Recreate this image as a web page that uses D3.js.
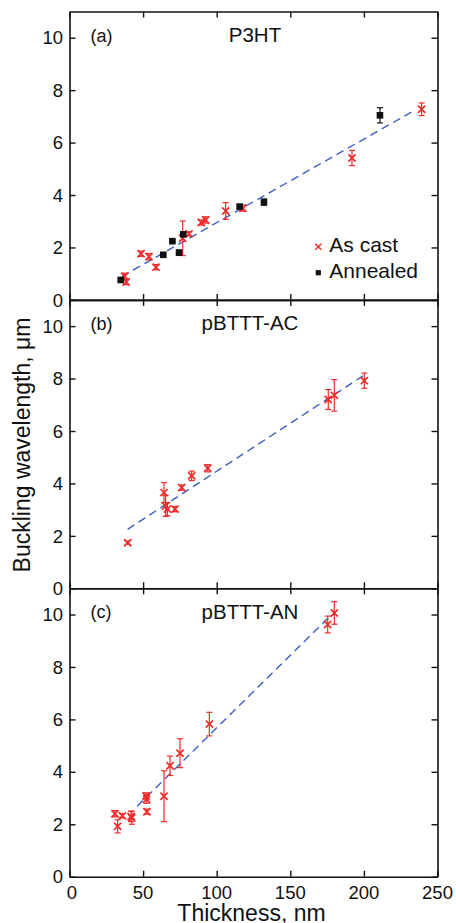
<!DOCTYPE html>
<html>
<head>
<meta charset="utf-8">
<script src="https://cdnjs.cloudflare.com/ajax/libs/d3/7.8.5/d3.min.js"></script>
<style>
  body { margin: 0; background: #fff; }
  text { font-family: "Liberation Sans", Arial, Helvetica, sans-serif; fill: #111; }
</style>
</head>
<body>
<script>
//Width and height
var w = 456;
var h = 923;

var marginLeft = 69.5;
var plotWidth = 368;
var panelTop = 11.5;
var panelHeight = 288.4;
var tickLen = 6;
var colorRed = "#f02a2a";
var colorBlue = "#3d5fc4";
var colorBlack = "#111";

// tick labels
var xTicks = [0, 50, 100, 150, 200, 250];
var yTicks = [0, 2, 4, 6, 8, 10];

// (a) P3HT, as cast
var p3htCastThickness  = [37.5, 38.5, 48.6, 54.0, 58.8, 76.9, 81.2, 89.5, 92.5, 106.1, 117.8, 191.9, 239.2];
var p3htCastWavelength = [0.90, 0.68, 1.76, 1.65, 1.25, 2.35, 2.52, 2.95, 3.05, 3.39, 3.50, 5.41, 7.27];
var p3htCastError      = [0.12, 0.10, 0.10, 0.12, 0.10, 0.66, 0.08, 0.10, 0.12, 0.32, 0.12, 0.29, 0.24];
// (a) P3HT, annealed
var p3htAnnealThickness  = [34.8, 63.7, 69.9, 74.4, 77.3, 115.6, 132.1, 210.9];
var p3htAnnealWavelength = [0.76, 1.72, 2.24, 1.80, 2.50, 3.56, 3.73, 7.04];
var p3htAnnealError      = [0.05, 0.04, 0.04, 0.10, 0.08, 0.08, 0.12, 0.29];
var p3htFitThickness  = [35.5, 235];
var p3htFitWavelength = [0.89, 7.25];

// (b) pBTTT-AC
var acThickness  = [39.5, 64.2, 65.3, 66.5, 71.7, 76.2, 83.0, 93.9, 175.8, 179.9, 200.3];
var acWavelength = [1.74, 3.65, 3.14, 3.02, 3.02, 3.84, 4.29, 4.58, 7.20, 7.36, 7.92];
var acError      = [0.06, 0.38, 0.40, 0.25, 0.10, 0.10, 0.18, 0.14, 0.38, 0.60, 0.29];
var acFitThickness  = [39.5, 199.6];
var acFitWavelength = [2.25, 8.11];

// (c) pBTTT-AN
var anThickness  = [30.9, 32.7, 35.9, 41.8, 42.3, 52.0, 52.4, 52.6, 64.2, 68.3, 75.1, 95.0, 175.4, 179.9];
var anWavelength = [2.40, 1.92, 2.32, 2.30, 2.25, 3.08, 2.95, 2.48, 3.07, 4.23, 4.71, 5.82, 9.62, 10.06];
var anError      = [0.12, 0.25, 0.08, 0.20, 0.25, 0.12, 0.15, 0.10, 0.97, 0.37, 0.55, 0.45, 0.32, 0.43];
var anFitThickness  = [46, 177];
var anFitWavelength = [2.69, 9.94];

function zip(xs, ys, es) {
	return xs.map(function(x, i) { return {x: x, y: ys[i], e: es ? es[i] : 0}; });
}

var panels = [
	{label: "(a)", title: "P3HT", titleX: 255, cast: zip(p3htCastThickness, p3htCastWavelength, p3htCastError),
	 anneal: zip(p3htAnnealThickness, p3htAnnealWavelength, p3htAnnealError), fit: zip(p3htFitThickness, p3htFitWavelength)},
	{label: "(b)", title: "pBTTT-AC", titleX: 250, cast: zip(acThickness, acWavelength, acError),
	 anneal: [], fit: zip(acFitThickness, acFitWavelength)},
	{label: "(c)", title: "pBTTT-AN", titleX: 250, cast: zip(anThickness, anWavelength, anError),
	 anneal: [], fit: zip(anFitThickness, anFitWavelength)}
];

//Create SVG element
var svg = d3.select("body")
			.append("svg")
			.attr("width", w)
			.attr("height", h);

var x = d3.scaleLinear().domain([0, 250]).range([0, plotWidth]);

panels.forEach(function(p, index) {
	var y = d3.scaleLinear().domain([0, 11]).range([panelHeight, 0]);
	var g = svg.append("g")
		.attr("transform", "translate(" + marginLeft + "," + (panelTop + index * panelHeight) + ")");

	// inward ticks on all four sides
	var axes = [
		{axis: d3.axisBottom(x).tickValues(xTicks).tickSizeInner(-tickLen), at: [0, panelHeight]},
		{axis: d3.axisTop(x).tickValues(xTicks).tickSizeInner(-tickLen), at: [0, 0]},
		{axis: d3.axisLeft(y).tickValues(yTicks).tickSizeInner(-tickLen), at: [0, 0]},
		{axis: d3.axisRight(y).tickValues(yTicks).tickSizeInner(-tickLen), at: [plotWidth, 0]}
	];
	axes.forEach(function(a, k) {
		var ag = g.append("g")
			.attr("transform", "translate(" + a.at[0] + "," + a.at[1] + ")")
			.call(a.axis.tickSizeOuter(0));
		ag.selectAll("path.domain").attr("stroke", colorBlack).attr("stroke-width", 1.6);
		ag.selectAll(".tick line").attr("stroke", colorBlack).attr("stroke-width", 1.4);
		ag.selectAll(".tick text").remove();
	});

	// y tick labels
	g.selectAll("text.ylab")
		.data(yTicks)
		.enter()
		.append("text")
		.attr("class", "ylab")
		.attr("x", -6.5)
		.attr("y", function(d) { return y(d); })
		.attr("dy", "0.36em")
		.attr("text-anchor", "end")
		.attr("font-size", "18.5px")
		.text(function(d) { return d; });

	// x tick labels only on the bottom panel
	if (index == panels.length - 1) {
		g.selectAll("text.xlab")
			.data(xTicks)
			.enter()
			.append("text")
			.attr("class", "xlab")
			.attr("x", function(d) { return x(d) + (d == 0 ? 2.5 : 0); })
			.attr("y", panelHeight + 22)
			.attr("text-anchor", "middle")
			.attr("font-size", "18.5px")
			.text(function(d) { return d; });
	}

	g.append("text")
		.attr("x", 21)
		.attr("y", 30)
		.attr("font-size", "18px")
		.text(p.label);

	g.append("text")
		.attr("x", p.titleX - marginLeft)
		.attr("y", 30.5)
		.attr("text-anchor", "middle")
		.attr("font-size", "20.5px")
		.text(p.title);

	// dashed fit
	g.append("path")
		.datum(p.fit)
		.attr("d", d3.line().x(function(d) { return x(d.x); }).y(function(d) { return y(d.y); }))
		.attr("fill", "none")
		.attr("stroke", colorBlue)
		.attr("stroke-width", 1.4)
		.attr("stroke-dasharray", "8,5");

	// error bars
	var all = p.cast.map(function(d) { d.c = colorRed; return d; })
		.concat(p.anneal.map(function(d) { d.c = colorBlack; return d; }));
	var eb = g.selectAll("g.err")
		.data(all)
		.enter()
		.append("g")
		.attr("class", "err")
		.attr("stroke", function(d) { return d.c; })
		.attr("stroke-width", 1.2);
	eb.append("line")
		.attr("x1", function(d) { return x(d.x); })
		.attr("x2", function(d) { return x(d.x); })
		.attr("y1", function(d) { return y(d.y - d.e); })
		.attr("y2", function(d) { return y(d.y + d.e); });
	[-1, 1].forEach(function(s) {
		eb.append("line")
			.attr("x1", function(d) { return x(d.x) - 3; })
			.attr("x2", function(d) { return x(d.x) + 3; })
			.attr("y1", function(d) { return y(d.y + s * d.e); })
			.attr("y2", function(d) { return y(d.y + s * d.e); });
	});

	// as cast crosses
	g.selectAll("path.cast")
		.data(p.cast)
		.enter()
		.append("path")
		.attr("class", "cast")
		.attr("d", function(d) {
			var cx = x(d.x), cy = y(d.y), r = 3.6;
			return "M" + (cx - r) + "," + (cy - r) + "L" + (cx + r) + "," + (cy + r) +
				"M" + (cx - r) + "," + (cy + r) + "L" + (cx + r) + "," + (cy - r);
		})
		.attr("stroke", colorRed)
		.attr("stroke-width", 1.7);

	// annealed squares
	g.selectAll("rect.anneal")
		.data(p.anneal)
		.enter()
		.append("rect")
		.attr("class", "anneal")
		.attr("x", function(d) { return x(d.x) - 3.3; })
		.attr("y", function(d) { return y(d.y) - 3.3; })
		.attr("width", 6.6)
		.attr("height", 6.6)
		.attr("fill", colorBlack);

	// legend
	if (p.anneal.length) {
		var lg = g.append("g").attr("transform", "translate(" + (318.3 - marginLeft) + ",0)");
		lg.append("path")
			.attr("d", "M-3,232.2L3,238.2M-3,238.2L3,232.2")
			.attr("stroke", colorRed)
			.attr("stroke-width", 1.5);
		lg.append("rect")
			.attr("x", -2.6).attr("y", 258.6).attr("width", 5.2).attr("height", 5.2)
			.attr("fill", colorBlack);
		lg.append("text").attr("x", 11).attr("y", 240.8).attr("font-size", "21px").text("As cast");
		lg.append("text").attr("x", 11).attr("y", 266.2).attr("font-size", "21px").text("Annealed");
	}
});

// axis titles
svg.append("text")
	.attr("x", marginLeft + x(125) - 2)
	.attr("y", 921)
	.attr("text-anchor", "middle")
	.attr("font-size", "23px")
	.text("Thickness, nm");

svg.append("text")
	.attr("transform", "translate(30,445) rotate(-90)")
	.attr("text-anchor", "middle")
	.attr("font-size", "23px")
	.text("Buckling wavelength, \u03bcm");
</script>
</body>
</html>
